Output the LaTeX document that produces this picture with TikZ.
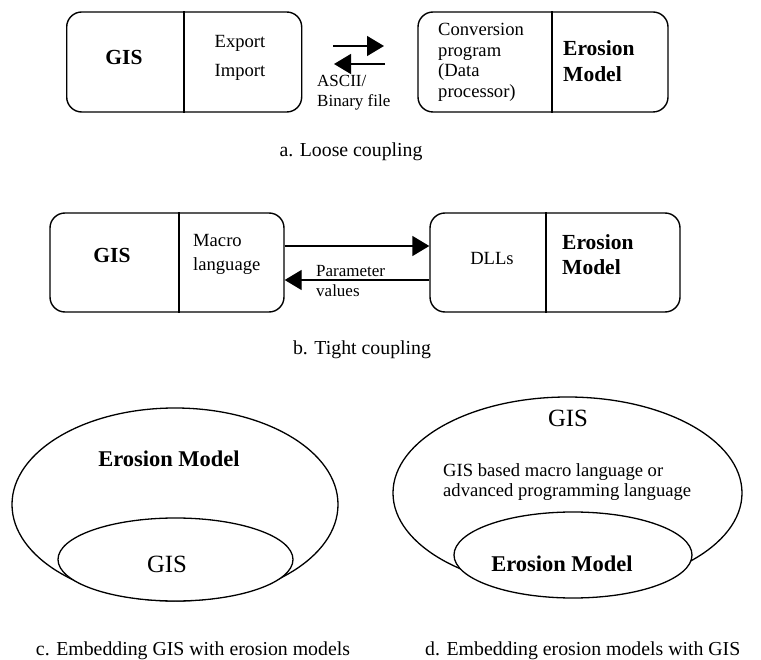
\documentclass[tikz,border=0pt]{standalone}
\usepackage{fontspec}
\setmainfont{Liberation Serif}
\usetikzlibrary{arrows.meta}
\newcommand\fReg{\fontsize{18.6}{20.5}\selectfont}
\newcommand\fSm{\fontsize{17}{20}\selectfont}
\newcommand\fBd{\fontsize{21.5}{25}\selectfont\bfseries}
\newcommand\fBdL{\fontsize{22.5}{26}\selectfont\bfseries}
\newcommand\fBig{\fontsize{24.8}{28}\selectfont}
\newcommand\fCap{\fontsize{19.8}{24}\selectfont}
\begin{document}
\begin{tikzpicture}[x=1pt,y=-1pt,
  box/.style={draw, rounded corners=15pt, line width=1.4pt, inner sep=0pt},
  divl/.style={line width=1.4pt},
  arr/.style={line width=1.4pt, -{Triangle[length=17pt,width=20pt]}},
  txt/.style={inner sep=0pt, anchor=base},
  txtl/.style={inner sep=0pt, anchor=base west},
  ell/.style={line width=1.3pt}]
\useasboundingbox (0,0) rectangle (761,660);

% ---------- a. Loose coupling
\node[box, minimum width=235pt, minimum height=100pt] (aL) at (184.2,62) {};
\node[box, minimum width=250pt, minimum height=100pt] (aR) at (543,62) {};
\coordinate (aLd) at (184,0);
\coordinate (aRd) at (552,0);
\draw[divl] (aL.north -| aLd) -- (aL.south -| aLd);
\draw[divl] (aR.north -| aRd) -- (aR.south -| aRd);
\node[txt, font=\fBd] (aGIS) at (124,65) {GIS};
\node[txt, font=\fReg] (aExp) at (240,48) {Export};
\node[txt, font=\fReg] (aImp) at (240,77) {Import};
\node[txtl, font=\fReg] (aC1) at (438,36) {Conversion};
\node[txtl, font=\fReg] (aC2) at (438,56.5) {program};
\node[txtl, font=\fReg] (aC3) at (438,77) {(Data};
\node[txtl, font=\fReg] (aC4) at (438,97.5) {processor)};
\node[txtl, font=\fBd] (aE1) at (563,56) {Erosion};
\node[txtl, font=\fBd] (aE2) at (563,82) {Model};
\coordinate (a1s) at (333,46);
\coordinate (a1e) at (384,46);
\coordinate (a2s) at (385,64);
\coordinate (a2e) at (334,64);
\draw[arr] (a1s) -- (a1e);
\draw[arr] (a2s) -- (a2e);
\node[txtl, font=\fSm] (aF1) at (317,87) {ASCII/};
\node[txtl, font=\fSm] (aF2) at (317,107) {Binary file};
\node[txt, font=\fCap] (capA) at (351,157) {a. Loose coupling};

% ---------- b. Tight coupling
\node[box, minimum width=234pt, minimum height=99pt] (bL) at (167,262.5) {};
\node[box, minimum width=250pt, minimum height=99pt] (bR) at (555,262.5) {};
\coordinate (bLd) at (179,0);
\coordinate (bRd) at (546,0);
\draw[divl] (bL.north -| bLd) -- (bL.south -| bLd);
\draw[divl] (bR.north -| bRd) -- (bR.south -| bRd);
\node[txt, font=\fBd] (bGIS) at (112,263) {GIS};
\node[txtl, font=\fReg] (bM1) at (193,246.5) {Macro};
\node[txtl, font=\fReg] (bM2) at (193,270.5) {language};
\node[txt, font=\fReg] (bDLL) at (492,265) {DLLs};
\node[txtl, font=\fBd] (bE1) at (562,250) {Erosion};
\node[txtl, font=\fBd] (bE2) at (562,275) {Model};
\coordinate (bt) at (0,246);
\coordinate (bb) at (0,280);
\draw[arr] (bL.east |- bt) -- (bR.west |- bt);
\draw[arr] (bR.west |- bb) -- (bL.east |- bb);
\node[txtl, font=\fSm] (bP1) at (316,277) {Parameter};
\node[txtl, font=\fSm] (bP2) at (316,296.5) {values};
\node[txt, font=\fCap] (capB) at (362,355) {b. Tight coupling};

% ---------- c. Embedding GIS with erosion models
\draw[ell] (175,504.5) ellipse [x radius=163, y radius=96.5];
\filldraw[ell, fill=white] (175.5,559.5) ellipse [x radius=117.5, y radius=41.5];
\node[txt, font=\fBdL] (cE) at (169,466) {Erosion Model};
\node[txt, font=\fBig] (cG) at (167,572.5) {GIS};
\node[txt, font=\fCap] (capC) at (193,655) {c. Embedding GIS with erosion models};

% ---------- d. Embedding erosion models with GIS
\draw[ell] (567.5,493) ellipse [x radius=174.5, y radius=96];
\filldraw[ell, fill=white] (573,555) ellipse [x radius=119, y radius=43];
\node[txt, font=\fBig] (dG) at (568,426.5) {GIS};
\node[txtl, font=\fReg] (dT1) at (443,476.5) {GIS based macro language or};
\node[txtl, font=\fReg] (dT2) at (443,496.5) {advanced programming language};
\node[txt, font=\fBdL] (dE) at (562,571.5) {Erosion Model};
\node[txtl, font=\fCap] (capD) at (425,655) {d. Embedding erosion models with GIS};
\end{tikzpicture}
\end{document}
